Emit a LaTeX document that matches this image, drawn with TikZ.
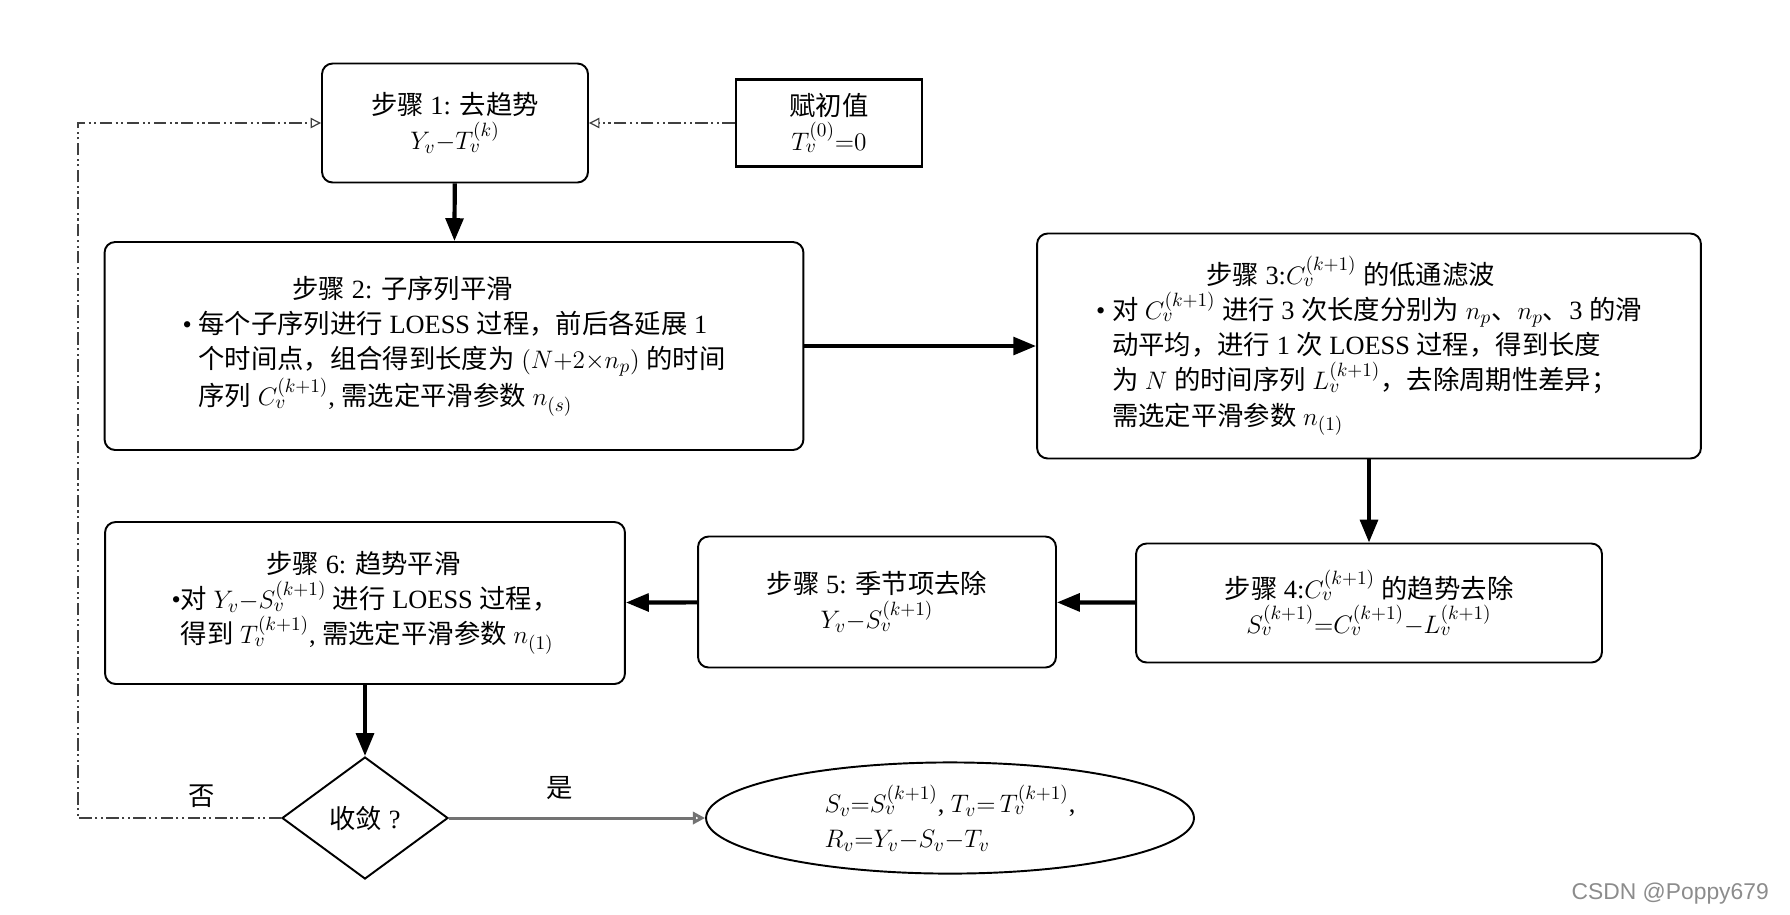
\documentclass[tikz,border=0pt]{standalone}
\usepackage{fontspec}
\setmainfont{Liberation Serif}
\newfontfamily\zh{Noto Sans CJK SC}
\newfontfamily\wm{Liberation Sans}
\usetikzlibrary{arrows.meta,shapes.geometric}

% Chinese characters switch to the CJK family by themselves
\XeTeXinterchartokenstate=1
\newXeTeXintercharclass\zhclass
\newcount\zhc
\def\setzhrange#1#2{\zhc=#1 \loop\XeTeXcharclass\zhc=\zhclass\ifnum\zhc<#2 \advance\zhc by 1 \repeat}
\setzhrange{"3000}{"303F}
\setzhrange{"4E00}{"9FFF}
\setzhrange{"FF00}{"FFEF}
\XeTeXinterchartoks 0 \zhclass = {\begingroup\zh}
\XeTeXinterchartoks 4095 \zhclass = {\begingroup\zh}
\XeTeXinterchartoks \zhclass 0 = {\endgroup}
\XeTeXinterchartoks \zhclass 4095 = {\endgroup}

\begin{document}
\begin{tikzpicture}[x=0.02cm, y=-0.02cm,
    stepbox/.style={draw, line width=1.1pt, rounded corners=6pt, align=center, font=\fontsize{15}{20}\selectfont},
    initbox/.style={draw, line width=1.6pt, align=center, font=\fontsize{15}{20}\selectfont},
    arrow/.style={-{Triangle[length=13pt,width=10pt]}, line width=2.4pt},
    loopline/.style={-{Triangle[open,length=6pt,width=6pt]}, line width=0.7pt, black!75,
        dash pattern=on 7pt off 2pt on 1.2pt off 2pt on 1.2pt off 2pt}
]
    \useasboundingbox (0,0) rectangle (1790,914);

    \node[stepbox, minimum width=5.32cm, minimum height=2.38cm] (step1) at (455,123)
        {步骤 1: 去趋势\\ $Y_v{-}T_v^{(k)}$};
    \node[initbox, minimum width=3.72cm, minimum height=1.74cm] (init) at (829,123)
        {赋初值\\ $T_v^{(0)}{=}0$};
    \node[stepbox, align=left, minimum width=13.98cm, minimum height=4.16cm] (step2) at (454,346)
        {\hspace*{2.2cm}步骤 2: 子序列平滑\\
         \textbullet\ 每个子序列进行 LOESS 过程，前后各延展 1\\
         \hphantom{\textbullet\ }个时间点，组合得到长度为 $(N{+}2{\times}n_p)$ 的时间\\
         \hphantom{\textbullet\ }序列 $C_v^{(k+1)}$, 需选定平滑参数 $n_{(s)}$};
    \node[stepbox, align=left, minimum width=13.28cm, minimum height=4.5cm] (step3) at (1369,346)
        {\hspace*{2.2cm}步骤 3:$C_v^{(k+1)}$ 的低通滤波\\
         \textbullet\ 对 $C_v^{(k+1)}$ 进行 3 次长度分别为 $n_p$、$n_p$、3 的滑\\
         \hphantom{\textbullet\ }动平均，进行 1 次 LOESS 过程，得到长度\\
         \hphantom{\textbullet\ }为 $N$ 的时间序列 $L_v^{(k+1)}$，去除周期性差异；\\
         \hphantom{\textbullet\ }需选定平滑参数 $n_{(1)}$};
    \node[stepbox, minimum width=9.32cm, minimum height=2.38cm] (step4) at (1369,603)
        {步骤 4:$C_v^{(k+1)}$ 的趋势去除\\ $S_v^{(k+1)}{=}C_v^{(k+1)}{-}L_v^{(k+1)}$};
    \node[stepbox, minimum width=7.16cm, minimum height=2.62cm] (step5) at (877,602)
        {步骤 5: 季节项去除\\ $Y_v{-}S_v^{(k+1)}$};
    \node[stepbox, align=left, minimum width=10.4cm, minimum height=3.24cm] (step6) at (365,603)
        {\hspace*{1.9cm}步骤 6: 趋势平滑\\
         \textbullet 对 $Y_v{-}S_v^{(k+1)}$ 进行 LOESS 过程，\\
         \hphantom{\textbullet}得到 $T_v^{(k+1)}$, 需选定平滑参数 $n_{(1)}$};
    \node[draw, diamond, line width=1.1pt, inner sep=0pt, minimum width=3.32cm, minimum height=2.44cm,
        font=\fontsize{15}{20}\selectfont] (conv) at (365,818) {收敛 ?};
    \node[draw, ellipse, line width=1.1pt, align=left, minimum width=9.76cm, minimum height=2.08cm,
        font=\fontsize{15}{20}\selectfont] (result) at (950,818)
        {$S_v{=}S_v^{(k+1)}$, $T_v{=}\,T_v^{(k+1)}$,\\ $R_v{=}Y_v{-}S_v{-}T_v$};

    \coordinate (back) at (78,123);

    \draw[arrow] (step1) -- (step2);
    \draw[arrow] (step2) -- (step3);
    \draw[arrow] (step3) -- (step4);
    \draw[arrow] (step4) -- (step5);
    \draw[arrow] (step5) -- (step6);
    \draw[arrow] (step6) -- (conv);
    \draw[loopline] (init) -- (step1);
    \draw[loopline] (conv.west) -| (back) -- (step1.west);
    \draw[-{Triangle[open,length=7pt,width=7pt]}, line width=1.7pt, black!55] (conv) -- (result);

    \node[font=\fontsize{15}{20}\selectfont] (no) at (202,796) {否};
    \node[font=\fontsize{15}{20}\selectfont] (yes) at (560,788) {是};
    \node[font=\fontsize{13}{15}\wm, text=black!45, anchor=east] (mark) at (1775,894) {CSDN @Poppy679};
\end{tikzpicture}
\end{document}
